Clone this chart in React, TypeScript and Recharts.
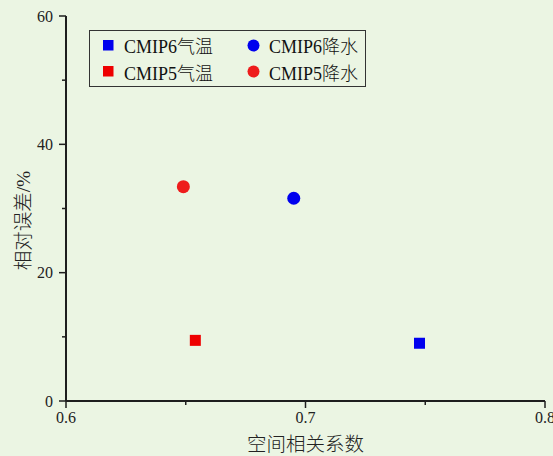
import React from 'react';
import { ScatterChart, Scatter, XAxis, YAxis, Legend, Label } from 'recharts';

const seriesNames = ['CMIP6气温', 'CMIP5气温', 'CMIP6降水', 'CMIP5降水'];
const seriesColors = ['#0000EE', '#EE0000', '#0000EE', '#EE1C1C'];
const seriesShapes = ['square', 'square', 'circle', 'circle'];

const cmip6Temp = [{ x: 0.7476, y: 9.0 }];
const cmip5Temp = [{ x: 0.654, y: 9.45 }];
const cmip6Precip = [{ x: 0.6951, y: 31.6 }];
const cmip5Precip = [{ x: 0.649, y: 33.4 }];
const seriesData = [cmip6Temp, cmip5Temp, cmip6Precip, cmip5Precip];

const xTicks = [0.6, 0.65, 0.7, 0.75, 0.8];
const xMajorTicks = [0.6, 0.7, 0.8];
const yTicks = [0, 10, 20, 30, 40, 50, 60];
const yMajorTicks = [0, 20, 40, 60];

const xTitle = '空间相关系数';
const yTitle = '相对误差/%';

const FONT = "'Liberation Serif', 'Times New Roman', 'Noto Sans CJK SC', serif";
const AXIS = '#1e1e1e';
const BG = '#EBF5E3';

const isMajor = (list: number[], v: number) => list.some((m) => Math.abs(m - v) < 1e-9);

const XTick = (props: any) => {
  const { x, y, payload } = props;
  const major = isMajor(xMajorTicks, payload.value);
  return (
    <g>
      <line x1={x} x2={x} y1={y} y2={y + (major ? 7 : 4)} stroke={AXIS} strokeWidth={1.5} />
      {major && (
        <text x={x} y={y + 22} textAnchor="middle" fontFamily={FONT} fontSize={16} fill="#222">
          {String(payload.value)}
        </text>
      )}
    </g>
  );
};

const YTick = (props: any) => {
  const { x, y, payload } = props;
  const major = isMajor(yMajorTicks, payload.value);
  return (
    <g>
      <line x1={x} x2={x - (major ? 7 : 4)} y1={y} y2={y} stroke={AXIS} strokeWidth={1.5} />
      {major && (
        <text x={x - 13} y={y + 5.5} textAnchor="end" fontFamily={FONT} fontSize={16} fill="#222">
          {String(payload.value)}
        </text>
      )}
    </g>
  );
};

const makeShape = (kind: string, color: string) => (props: any) => {
  const { cx, cy } = props;
  if (kind === 'square') {
    return <rect x={cx - 5.5} y={cy - 5.5} width={11} height={11} fill={color} />;
  }
  return <circle cx={cx} cy={cy} r={6.5} fill={color} />;
};

const LegendContent = () => {
  const cols = [
    [0, 1],
    [2, 3],
  ];
  return (
    <div
      style={{
        position: 'relative',
        width: 277,
        height: 57,
        boxSizing: 'border-box',
        border: '1px solid #333',
        fontFamily: FONT,
        fontSize: 18,
        fontWeight: 300,
        color: '#111',
      }}
    >
      {cols.map((col, ci) =>
        col.map((si, ri) => (
          <div
            key={si}
            style={{
              position: 'absolute',
              left: ci === 0 ? 12 : 157,
              top: 3 + ri * 26.7,
              height: 22,
              display: 'flex',
              alignItems: 'center',
              whiteSpace: 'nowrap',
            }}
          >
            <svg width={13} height={13} style={{ marginRight: 9 }}>
              {seriesShapes[si] === 'square' ? (
                <rect x={1} y={1} width={10.5} height={10.5} fill={seriesColors[si]} />
              ) : (
                <circle cx={6.5} cy={6.5} r={6} fill={seriesColors[si]} />
              )}
            </svg>
            <span>{seriesNames[si]}</span>
          </div>
        ))
      )}
    </div>
  );
};

export default function App() {
  return (
    <div style={{ position: 'absolute', left: 0, top: 0, width: 553, height: 456, background: BG }}>
      <ScatterChart width={553} height={456} margin={{ top: 16, right: 8, left: 0, bottom: 0 }}>
        <XAxis
          xAxisId="top"
          orientation="top"
          type="number"
          dataKey="x"
          domain={[0.6, 0.8]}
          height={0}
          tick={false}
          tickLine={false}
          axisLine={{ stroke: AXIS, strokeWidth: 2 }}
        />
        <YAxis
          yAxisId="right"
          orientation="right"
          type="number"
          dataKey="y"
          domain={[0, 60]}
          width={0}
          tick={false}
          tickLine={false}
          axisLine={{ stroke: AXIS, strokeWidth: 2 }}
        />
        <XAxis
          type="number"
          dataKey="x"
          domain={[0.6, 0.8]}
          ticks={xTicks}
          interval={0}
          height={55}
          tickSize={0}
          tickMargin={0}
          tickLine={false}
          tick={<XTick />}
          axisLine={{ stroke: AXIS, strokeWidth: 2 }}
        >
          <Label
            content={(p: any) => {
              const vb = p.viewBox;
              return (
                <text
                  x={vb.x + vb.width / 2}
                  y={vb.y + 50}
                  textAnchor="middle"
                  fontFamily={FONT}
                  fontSize={19.5}
                  fontWeight={300}
                  fill="#222"
                >
                  {xTitle}
                </text>
              );
            }}
          />
        </XAxis>
        <YAxis
          type="number"
          dataKey="y"
          domain={[0, 60]}
          ticks={yTicks}
          interval={0}
          width={66}
          tickSize={0}
          tickMargin={0}
          tickLine={false}
          tick={<YTick />}
          axisLine={{ stroke: AXIS, strokeWidth: 2 }}
        >
          <Label
            content={(p: any) => {
              const vb = p.viewBox;
              const cx = 23;
              const cy = vb.y + vb.height / 2 + 12;
              return (
                <text
                  x={cx}
                  y={cy}
                  textAnchor="middle"
                  dominantBaseline="central"
                  transform={`rotate(-90, ${cx}, ${cy})`}
                  fontFamily={FONT}
                  fontSize={19.5}
                  fontWeight={300}
                  fill="#222"
                >
                  {yTitle}
                </text>
              );
            }}
          />
        </YAxis>
        {seriesData.map((d, i) => (
          <Scatter
            key={seriesNames[i]}
            name={seriesNames[i]}
            data={d}
            fill={seriesColors[i]}
            shape={makeShape(seriesShapes[i], seriesColors[i])}
            isAnimationActive={false}
          />
        ))}
        <Legend
          layout="vertical"
          align="center"
          verticalAlign="middle"
          content={<LegendContent />}
          wrapperStyle={{ position: 'absolute', left: 89, top: 30, width: 277, height: 57 }}
        />
      </ScatterChart>
    </div>
  );
}
